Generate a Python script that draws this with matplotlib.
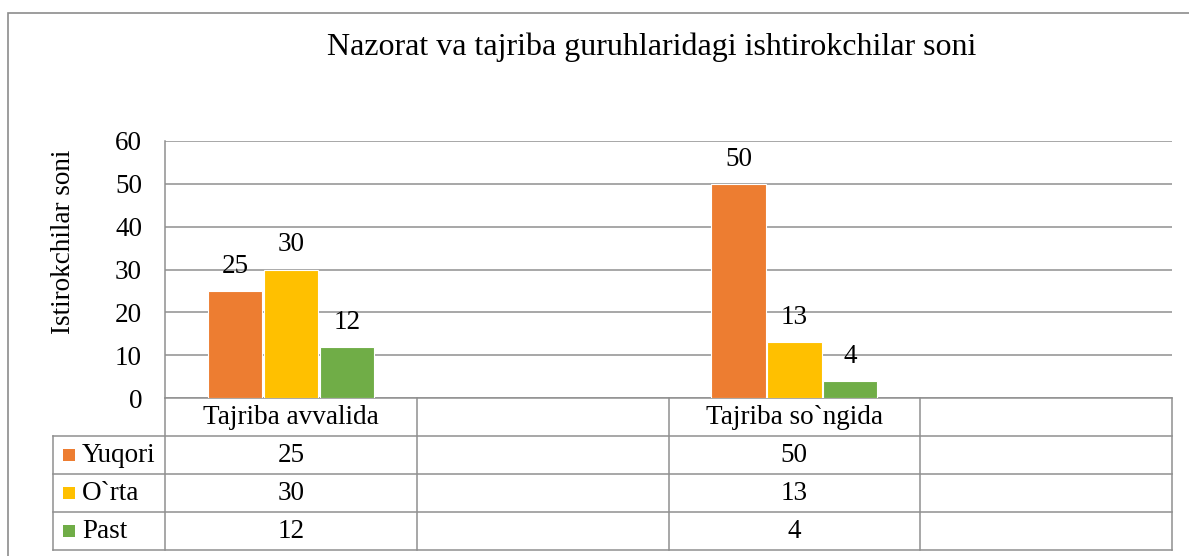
import matplotlib
matplotlib.use("Agg")
import matplotlib.pyplot as plt
import numpy as np
from matplotlib.patches import Rectangle
from matplotlib.transforms import blended_transform_factory

plt.rcParams['font.family'] = ['Liberation Serif', 'DejaVu Serif']

title = "Nazorat va tajriba guruhlaridagi ishtirokchilar soni"
ylabel = "Istirokchilar soni"
categories = ["Tajriba avvalida", "", "Tajriba so`ngida", ""]
series_names = ["Yuqori", "O`rta", "Past"]
yuqori = [25, np.nan, 50, np.nan]
orta = [30, np.nan, 13, np.nan]
past = [12, np.nan, 4, np.nan]
yticks = [0, 10, 20, 30, 40, 50, 60]
colors = ["#ED7D31", "#FFC000", "#70AD47"]

W, H = 1189, 556
fig = plt.figure(figsize=(W / 100, H / 100), dpi=100)
fig.patch.set_facecolor("white")

# outer chart border
fig.add_artist(Rectangle((8 / W, -0.05), 1.1, 1 - 13 / H + 0.05, transform=fig.transFigure,
                         fill=False, edgecolor="#8C8C8C", linewidth=1.2))

ax = fig.add_axes([165 / W, 1 - 398 / H, (1172 - 165) / W, (398 - 141) / H])
x = np.arange(len(categories))
offsets = [-0.222, 0.0, 0.222]
bw = 0.216
grid_c = "#8F8F8F"
fs = 19.5

for vals, off, c in zip([yuqori, orta, past], offsets, colors):
    ax.bar(x + off, vals, width=bw, color=c, edgecolor="white", linewidth=0.8, zorder=3)
    for xi, v in zip(x, vals):
        if not np.isnan(v):
            ax.annotate(f"{int(v)}", (xi + off, v), xytext=(0, 13), textcoords="offset points",
                        ha="center", va="baseline", fontsize=fs)

ax.set_xlim(-0.5, len(categories) - 0.5)
ax.set_ylim(0, 60)
ax.set_yticks(yticks)
ax.set_yticklabels([str(t) for t in yticks], fontsize=fs)
ax.tick_params(axis="y", length=0, pad=16.5)
ax.set_xticks([])
ax.yaxis.grid(True, color=grid_c, linewidth=1.1, zorder=0)
ax.set_axisbelow(True)
for s in ["top", "right", "bottom"]:
    ax.spines[s].set_visible(False)
ax.spines["left"].set_color(grid_c)
ax.spines["left"].set_linewidth(1.1)

ax.set_ylabel(ylabel, fontsize=fs)
ax.yaxis.set_label_coords(-89 / 1007, (398 - 242) / 257)

fig.text(652 / W, 1 - 47 / H, title, ha="center", va="center", fontsize=23)

# data table below the axis
tr = blended_transform_factory(ax.transData, ax.transAxes)
row_h = 38 / 257
left_x = -0.5 - 112 / 252
right_x = len(categories) - 0.5
nrows = len(series_names)
bottom_y = -row_h * (nrows + 1)
lk = dict(color=grid_c, linewidth=1.1, transform=tr, clip_on=False)

ax.plot([-0.5, right_x], [0, 0], **lk)
for r in range(1, nrows + 2):
    ax.plot([left_x, right_x], [-row_h * r, -row_h * r], **lk)
ax.plot([left_x, left_x], [-row_h, bottom_y], **lk)
for b in np.arange(len(categories) + 1) - 0.5:
    ax.plot([b, b], [0, bottom_y], **lk)

for xi, cat in zip(x, categories):
    ax.text(xi, -row_h * 0.5, cat, transform=tr, ha="center", va="center", fontsize=fs)

all_vals = [yuqori, orta, past]
for r, (name, vals, c) in enumerate(zip(series_names, all_vals, colors)):
    yc = -row_h * (r + 1.5)
    for xi, v in zip(x, vals):
        if not np.isnan(v):
            ax.text(xi, yc, f"{int(v)}", transform=tr, ha="center", va="center", fontsize=fs)
    fig.add_artist(Rectangle((63 / W, 1 - (436 + 38 * r + 25) / H), 12 / W, 12 / H,
                             transform=fig.transFigure, facecolor=c, edgecolor="none"))
    fig.text(82 / W, 1 - (436 + 38 * r + 19) / H, name, ha="left", va="center", fontsize=fs)

fig.savefig("out.png", dpi=100, facecolor="white")
